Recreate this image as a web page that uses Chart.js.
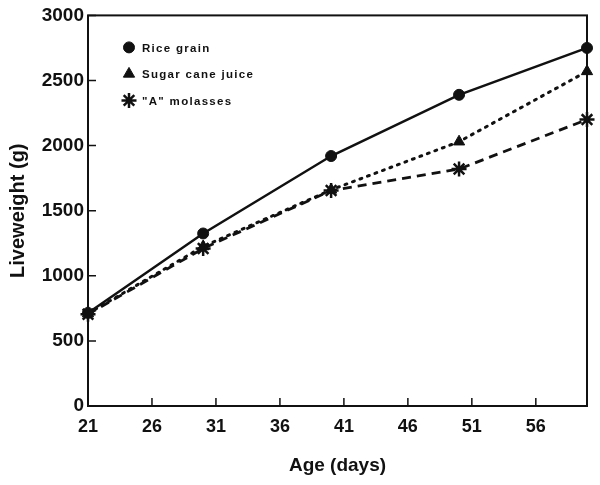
<!DOCTYPE html>
<html><head><meta charset="utf-8">
<script src="https://cdn.jsdelivr.net/npm/chart.js@4/dist/chart.umd.min.js"></script>
<style>html,body{margin:0;padding:0;background:#fff}#wrap{width:600px;height:485px}</style>
</head><body><div id="wrap"><canvas id="c" width="600" height="485"></canvas></div>
<script>
const ages = [21, 30, 40, 50, 60];
const riceGrain = [715, 1325, 1920, 2390, 2750];
const sugarCaneJuice = [710, 1225, 1660, 2030, 2570];
const aMolasses = [705, 1210, 1655, 1820, 2200];
const xTicks = [21, 26, 31, 36, 41, 46, 51, 56];
const yTicks = [0, 500, 1000, 1500, 2000, 2500, 3000];
const seriesLabels = ['Rice grain', 'Sugar cane juice', '"A" molasses'];

const INK = '#111';
const FONT = "'Liberation Sans', Arial, sans-serif";

const toXY = arr => arr.map((v, i) => ({x: ages[i], y: v}));

const framePlugin = {
  id: 'frame',
  beforeDatasetsDraw(chart) {
    const {ctx, chartArea: a, scales} = chart;
    ctx.save();
    ctx.strokeStyle = INK;
    ctx.lineWidth = 2;
    ctx.strokeRect(a.left, a.top, a.right - a.left, a.bottom - a.top);
    ctx.lineWidth = 1.5;
    ctx.beginPath();
    xTicks.forEach(t => { const px = scales.x.getPixelForValue(t); ctx.moveTo(px, a.bottom); ctx.lineTo(px, a.bottom - 8); });
    yTicks.forEach(t => { const py = scales.y.getPixelForValue(t); ctx.moveTo(a.left, py); ctx.lineTo(a.left + 8, py); });
    ctx.stroke();
    // legend
    const lx = a.left + 41, ly0 = a.top + 32, dy = 26.5;
    ctx.font = "bold 11.5px " + FONT;
    try { ctx.letterSpacing = '1.3px'; } catch(e) {}
    ctx.textBaseline = 'middle';
    ctx.fillStyle = INK;
    chart.data.datasets.forEach((ds, i) => {
      const y = ly0 + i * dy;
      ctx.fillStyle = INK; ctx.strokeStyle = INK; ctx.lineWidth = ds.pointBorderWidth;
      Chart.helpers.drawPoint(ctx, {pointStyle: ds.pointStyle, radius: ds.pointRadius, rotation: 0, borderWidth: ds.pointBorderWidth}, lx, y);
      ctx.fillStyle = INK;
      ctx.fillText(ds.label, lx + 13, y + 1);
    });
    ctx.restore();
  }
};

new Chart(document.getElementById('c'), {
  type: 'line',
  data: {
    datasets: [
      {label: seriesLabels[0], data: toXY(riceGrain), borderColor: INK, backgroundColor: INK, borderWidth: 2.5, clip: false,
       pointStyle: 'circle', pointRadius: 5.5, pointBorderWidth: 1, pointBackgroundColor: INK, pointBorderColor: INK},
      {label: seriesLabels[1], data: toXY(sugarCaneJuice), borderColor: INK, backgroundColor: INK, borderWidth: 3, clip: false,
       borderDash: [2, 6], borderCapStyle: 'round',
       pointStyle: 'triangle', pointRadius: 6.5, pointBorderWidth: 1, pointBackgroundColor: INK, pointBorderColor: INK},
      {label: seriesLabels[2], data: toXY(aMolasses), borderColor: INK, backgroundColor: INK, borderWidth: 2.8, clip: false,
       borderDash: [9, 6],
       pointStyle: 'star', pointRadius: 7.5, pointBorderWidth: 2.5, pointBackgroundColor: INK, pointBorderColor: INK}
    ]
  },
  options: {
    responsive: false,
    animation: false,
    layout: {padding: {left: 0, right: 13, top: 14, bottom: 0}},
    plugins: {legend: {display: false}, tooltip: {enabled: false}},
    elements: {line: {tension: 0}},
    scales: {
      x: {
        type: 'linear', min: 21, max: 60,
        afterBuildTicks: s => { s.ticks = xTicks.map(v => ({value: v})); },
        afterFit: s => { s.height = 79; },
        grid: {display: false, drawTicks: false},
        border: {display: false},
        ticks: {color: INK, font: {family: FONT, size: 18, weight: 'bold'}, padding: 10, maxRotation: 0, autoSkip: false,
                callback: v => String(v)},
        title: {display: true, text: 'Age (days)', color: INK, font: {family: FONT, size: 19, weight: 'bold'}, padding: {top: 0, bottom: 8}}
      },
      y: {
        type: 'linear', min: 0, max: 3000,
        afterBuildTicks: s => { s.ticks = yTicks.map(v => ({value: v})); },
        afterFit: s => { s.width = 88; },
        grid: {display: false, drawTicks: false},
        border: {display: false},
        ticks: {color: INK, font: {family: FONT, size: 19, weight: 'bold'}, padding: 4, callback: v => String(v)},
        title: {display: true, text: 'Liveweight (g)', color: INK, font: {family: FONT, size: 20, weight: 'bold'}, padding: {top: 6, bottom: 0}}
      }
    }
  },
  plugins: [framePlugin]
});
</script>
</body></html>
